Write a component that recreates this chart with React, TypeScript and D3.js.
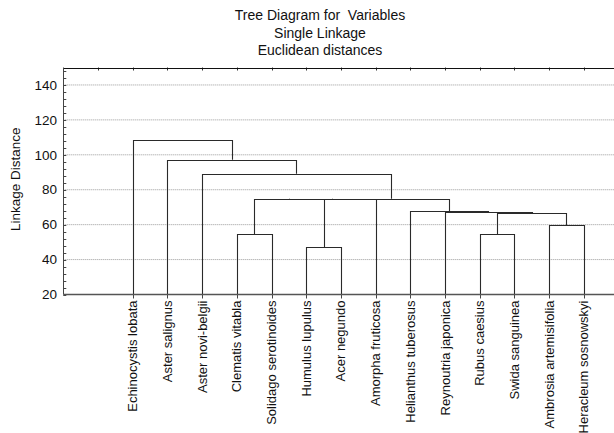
import React, { useEffect, useRef } from 'react';
import * as d3 from 'd3';

const leaves = [
  'Echinocystis lobata',
  'Aster salignus',
  'Aster novi-belgii',
  'Clematis vitabla',
  'Solidago serotinoides',
  'Humulus lupulus',
  'Acer negundo',
  'Amorpha fruticosa',
  'Helianthus tuberosus',
  'Reynoutria japonica',
  'Rubus caesius',
  'Swida sanguinea',
  'Ambrosia artemisifolia',
  'Heracleum sosnowskyi',
];

// merge steps: node ids 0..13 are leaves, each merge creates node 14, 15, ...
const mergeLeft = [5, 3, 10, 12, 16, 9, 8, 15, 21, 22, 2, 1, 0];
const mergeRight = [6, 4, 11, 13, 17, 18, 19, 14, 7, 20, 23, 24, 25];
const mergeHeight = [47.0, 54.6, 54.6, 59.8, 66.6, 67.1, 67.7, 74.9, 74.9, 74.9, 89.1, 97.1, 108.2];

const yTicks = [20, 40, 60, 80, 100, 120, 140];
const titleLines = ['Tree Diagram for  Variables', 'Single Linkage', 'Euclidean distances'];

const W = 614;
const H = 433;
const FONT = '"Liberation Sans", Arial, sans-serif';

const App = () => {
  const ref = useRef<SVGSVGElement>(null);

  useEffect(() => {
    const svg = d3.select(ref.current);
    svg.selectAll('*').remove();

    const x = d3.scaleLinear().domain([0, 16]).range([63.3, 618.5]);
    const y = d3.scaleLinear().domain([20, 150]).range([294.5, 67.5]);

    // titre
    svg.selectAll('text.title')
      .data(titleLines)
      .enter()
      .append('text')
      .attr('class', 'title')
      .attr('x', 320)
      .attr('y', (d, i) => 20 + i * 17.5)
      .attr('text-anchor', 'middle')
      .attr('font-family', FONT)
      .attr('font-size', 14)
      .attr('fill', '#111')
      .style('white-space', 'pre')
      .text(d => d);

    // grille
    svg.selectAll('line.grid')
      .data(yTicks.filter(t => t > 20))
      .enter()
      .append('line')
      .attr('x1', x(0))
      .attr('x2', W)
      .attr('y1', d => y(d))
      .attr('y2', d => y(d))
      .attr('stroke', '#999')
      .attr('stroke-width', 1)
      .attr('stroke-dasharray', '1,1');

    // axe y : graduations mineures
    const minor = d3.range(20, 150, 4);
    svg.selectAll('line.minor')
      .data(minor)
      .enter()
      .append('line')
      .attr('x1', x(0))
      .attr('x2', x(0) + 3)
      .attr('y1', d => Math.round(y(d)) + 0.5)
      .attr('y2', d => Math.round(y(d)) + 0.5)
      .attr('stroke', '#444');

    svg.selectAll('text.ytick')
      .data(yTicks)
      .enter()
      .append('text')
      .attr('x', 57)
      .attr('y', d => y(d))
      .attr('dy', '0.35em')
      .attr('text-anchor', 'end')
      .attr('font-family', FONT)
      .attr('font-size', 13.5)
      .attr('fill', '#111')
      .text(d => d);

    svg.append('text')
      .attr('transform', `translate(20,${y(86)}) rotate(-90)`)
      .attr('text-anchor', 'middle')
      .attr('font-family', FONT)
      .attr('font-size', 13.5)
      .attr('fill', '#111')
      .text('Linkage Distance');

    // graduations du haut
    svg.selectAll('line.toptick')
      .data(d3.range(1, 16))
      .enter()
      .append('line')
      .attr('x1', d => Math.round(x(d)) + 0.5)
      .attr('x2', d => Math.round(x(d)) + 0.5)
      .attr('y1', y(150))
      .attr('y2', y(150) + 3)
      .attr('stroke', '#333');

    // graduations du bas
    svg.selectAll('line.bottick')
      .data(leaves)
      .enter()
      .append('line')
      .attr('x1', (d, i) => Math.round(x(i + 2)) + 0.5)
      .attr('x2', (d, i) => Math.round(x(i + 2)) + 0.5)
      .attr('y1', y(20))
      .attr('y2', y(20) + 4)
      .attr('stroke', '#444');

    // dendrogramme
    const nodeX: number[] = leaves.map((d, i) => x(i + 2));
    const nodeH: number[] = leaves.map(() => 20);
    const paths: string[] = [];
    mergeLeft.forEach((a, k) => {
      const b = mergeRight[k];
      const h = mergeHeight[k];
      const xa = Math.round(nodeX[a]) + 0.5;
      const xb = Math.round(nodeX[b]) + 0.5;
      const yh = Math.round(y(h)) + 0.5;
      paths.push(`M${xa},${y(nodeH[a])}V${yh}H${xb}V${y(nodeH[b])}`);
      nodeX.push((nodeX[a] + nodeX[b]) / 2);
      nodeH.push(h);
    });

    svg.selectAll('path.link')
      .data(paths)
      .enter()
      .append('path')
      .attr('d', d => d)
      .attr('fill', 'none')
      .attr('stroke', '#2a2a2a')
      .attr('stroke-width', 1.1);

    // cadre
    svg.append('line')
      .attr('x1', x(0)).attr('x2', W)
      .attr('y1', Math.round(y(150)) + 0.5).attr('y2', Math.round(y(150)) + 0.5)
      .attr('stroke', '#111');
    svg.append('line')
      .attr('x1', Math.round(x(0)) + 0.5).attr('x2', Math.round(x(0)) + 0.5)
      .attr('y1', y(150)).attr('y2', y(20))
      .attr('stroke', '#444');
    svg.append('line')
      .attr('x1', x(0)).attr('x2', W)
      .attr('y1', y(20)).attr('y2', y(20))
      .attr('stroke', '#555')
      .attr('stroke-width', 1.6);

    // étiquettes des feuilles
    svg.selectAll('text.leaf')
      .data(leaves)
      .enter()
      .append('text')
      .attr('transform', (d, i) => `translate(${x(i + 2)},${y(20) + 6}) rotate(-90)`)
      .attr('dy', '0.35em')
      .attr('text-anchor', 'end')
      .attr('font-family', FONT)
      .attr('font-size', 13)
      .attr('fill', '#111')
      .text(d => d);
  }, []);

  return (
    <svg
      ref={ref}
      width={W}
      height={H}
      style={{ position: 'absolute', left: 0, top: 0, background: '#fff' }}
    />
  );
};

export default App;
